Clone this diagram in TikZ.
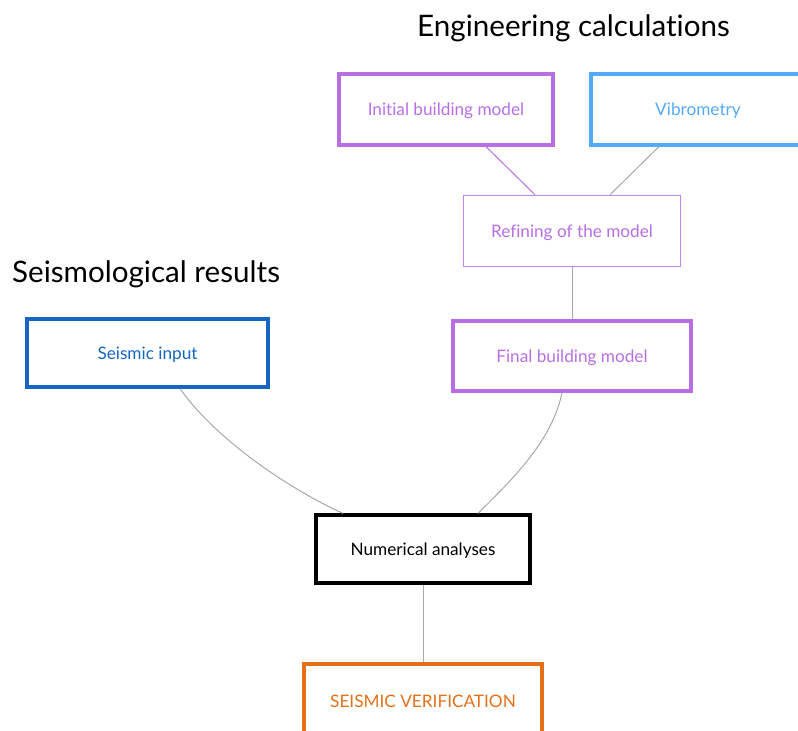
\documentclass[tikz,border=0pt]{standalone}
\usepackage{fontspec}
\setmainfont{Lato}[Ligatures=NoCommon]
\definecolor{cpurple}{HTML}{B86FE4}
\definecolor{clpurple}{HTML}{C385EC}
\definecolor{cvib}{HTML}{55AAF8}
\definecolor{cseis}{HTML}{1466C2}
\definecolor{corange}{HTML}{E3711C}
\definecolor{cgray}{HTML}{A8A8A8}
\tikzset{
  box/.style={draw, rectangle, line width=3.2pt, inner sep=0pt, text depth=0pt, font=\fontsize{17.2}{20}\selectfont},
  thinbox/.style={draw, rectangle, line width=1.5pt, inner sep=0pt, text depth=0pt, font=\fontsize{17.2}{20}\selectfont},
  title/.style={font=\fontsize{29.6}{34}\selectfont, inner sep=0pt, anchor=base west},
  link/.style={draw=cgray, line width=1pt},
}
\begin{document}
\begin{tikzpicture}[x=1pt,y=-1pt]
\useasboundingbox (0,0) rectangle (798,731);
\node[title] (eng) at (417,36) {Engineering calculations};
\node[title] (seis) at (12,282) {Seismological results};
\node[box, draw=cpurple, text=cpurple, minimum width=214pt, minimum height=71pt] (ibm) at (446,109.5) {Initial building model};
\node[box, draw=cvib, text=cvib, minimum width=214pt, minimum height=71pt] (vib) at (698,109.5) {Vibrometry};
\node[thinbox, draw=clpurple, text=cpurple, minimum width=217pt, minimum height=71pt] (ref) at (572,231) {Refining of the model};
\node[box, draw=cseis, text=cseis, minimum width=241pt, minimum height=68pt] (si) at (147.5,353) {Seismic input};
\node[box, draw=cpurple, text=cpurple, minimum width=238pt, minimum height=70pt] (fbm) at (572,356) {Final building model};
\node[box, draw=black, text=black, minimum width=214pt, minimum height=68pt] (num) at (423,549) {Numerical analyses};
\node[box, draw=corange, text=corange, minimum width=238pt, minimum height=74pt] (sv) at (423,701) {SEISMIC VERIFICATION};
\draw[draw=cpurple, line width=1pt] ([xshift=40pt]ibm.south) -- ([xshift=-37pt]ref.north);
\draw[link] ([xshift=-39pt]vib.south) -- ([xshift=38pt]ref.north);
\draw[link] (ref.south) -- (fbm.north);
\draw[link] ([xshift=32.5pt]si.south) .. controls +(35,50) and +(-55,-25) .. ([xshift=-80pt]num.north);
\draw[link] ([xshift=-10pt]fbm.south) .. controls +(-10,50) and +(30,-30) .. ([xshift=55pt]num.north);
\draw[link] (num.south) -- (sv.north);
\end{tikzpicture}
\end{document}
